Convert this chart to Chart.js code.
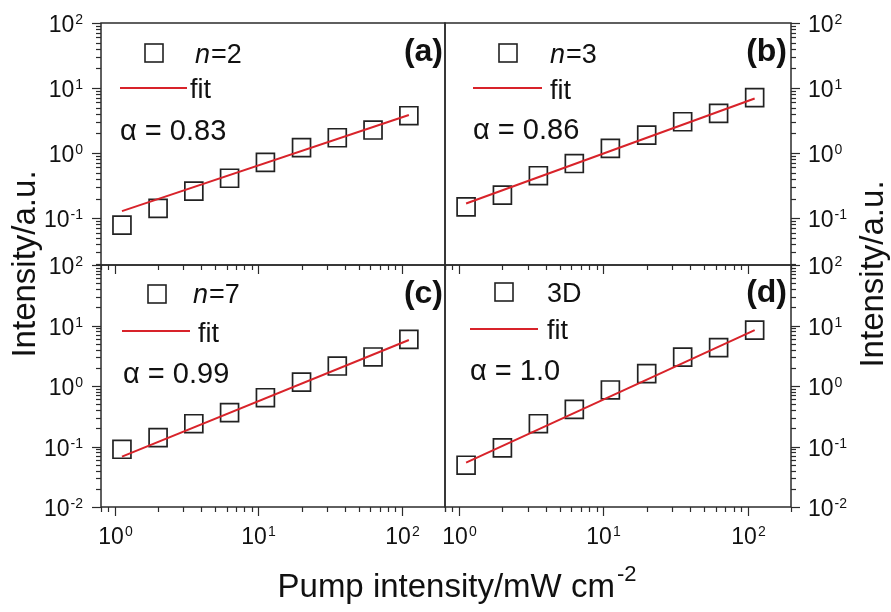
<!DOCTYPE html>
<html>
<head>
<meta charset="utf-8">
<script src="https://cdn.jsdelivr.net/npm/chart.js@4.4.1/dist/chart.umd.min.js"></script>
<style>
  body { margin: 0; background: #fff; }
  #wrap { position: relative; width: 891px; height: 612px; }
  #wrap canvas { position: absolute; left: 0; top: 0; }
</style>
</head>
<body>
<div id="wrap">
  <canvas id="panelA" width="891" height="612"></canvas>
  <canvas id="panelB" width="891" height="612"></canvas>
  <canvas id="panelC" width="891" height="612"></canvas>
  <canvas id="panelD" width="891" height="612"></canvas>
</div>
<script>
// Data
const pumpX = [1.12, 2.0, 3.55, 6.3, 11.2, 20, 35.5, 63, 112];
const intensityN2 = [0.078, 0.141, 0.26, 0.41, 0.72, 1.21, 1.72, 2.26, 3.75];
const intensityN3 = [0.149, 0.226, 0.448, 0.69, 1.18, 1.89, 3.03, 4.08, 7.1];
const intensityN7 = [0.09, 0.14, 0.238, 0.362, 0.64, 1.16, 2.14, 3.02, 5.9];
const intensity3D = [0.049, 0.095, 0.238, 0.41, 0.86, 1.6, 3.0, 4.3, 8.4];

// fit lines (end points)
const fitX = [1.12, 112];
const fitN2 = [0.128, 3.84];
const fitN3 = [0.168, 6.9];
const fitN7 = [0.068, 5.75];
const fit3D = [0.054, 8.4];

// axis ranges
const X_MIN = 0.8, X_MAX = 200;
const Y_MAX = 100, Y_TOP_MIN = 0.019, Y_BOT_MIN = 0.01;

const FONT = "'Liberation Sans', Arial, sans-serif";
const AXIS_COLOR = '#2b2b2b';
const TEXT_COLOR = '#111';
const FIT_RED = '#d8232a';

function logTicks(min, max) {
  const out = [];
  for (let e = -3; e <= 3; e++) {
    for (let k = 1; k <= 9; k++) {
      const v = k * Math.pow(10, e);
      if (v >= min * 0.999 && v <= max * 1.001) out.push({ v, major: k === 1, exp: e });
    }
  }
  return out;
}

// "10" with a raised exponent, y = baseline of "10"
function powerLabel(ctx, x, y, exp, align) {
  ctx.font = '23px ' + FONT;
  const bw = ctx.measureText('10').width;
  ctx.font = '14px ' + FONT;
  const ew = ctx.measureText(exp).width;
  let left = x;
  if (align === 'right') left = x - bw - ew - 1;
  if (align === 'center') left = x - (bw + ew + 1) / 2;
  ctx.textAlign = 'left';
  ctx.textBaseline = 'alphabetic';
  ctx.font = '23px ' + FONT;
  ctx.fillText('10', left, y);
  ctx.font = '14px ' + FONT;
  ctx.fillText(exp, left + bw + 1, y - 8);
}

function tickLine(ctx, x1, y1, x2, y2) {
  ctx.beginPath();
  ctx.moveTo(x1, y1);
  ctx.lineTo(x2, y2);
  ctx.stroke();
}

function panelDecor(cfg) {
  return {
    id: 'decor' + cfg.id,
    afterDraw(chart) {
      const ctx = chart.ctx;
      const a = chart.chartArea;
      const xs = chart.scales.x, ys = chart.scales.y;
      ctx.save();

      // frame
      ctx.strokeStyle = AXIS_COLOR;
      ctx.lineWidth = 1.5;
      ctx.strokeRect(a.left, a.top, a.right - a.left, a.bottom - a.top);

      // y axis ticks + labels
      ctx.lineWidth = 1.2;
      ctx.fillStyle = TEXT_COLOR;
      const left = cfg.side === 'left';
      const ax = left ? a.left : a.right;
      const dir = left ? -1 : 1;
      logTicks(ys.min, ys.max).forEach(t => {
        const py = Math.round(ys.getPixelForValue(t.v)) + 0.5;
        tickLine(ctx, ax, py, ax + dir * (t.major ? 9 : 5), py);
        if (t.major) {
          if (left) powerLabel(ctx, 83, py + 8, String(t.exp), 'right');
          else powerLabel(ctx, 808, py + 8, String(t.exp), 'left');
        }
      });

      // x ticks on bottom panels
      if (cfg.bottom) {
        logTicks(xs.min, xs.max).forEach(t => {
          const px = Math.round(xs.getPixelForValue(t.v)) + 0.5;
          const len = t.major ? 9 : 5;
          tickLine(ctx, px, a.bottom, px, a.bottom + len);
          tickLine(ctx, px, a.top, px, a.top + len);
          if (t.major) powerLabel(ctx, px, 544, String(t.exp), 'center');
        });
      }

      // legend
      const lg = cfg.legend;
      ctx.strokeStyle = '#222';
      ctx.lineWidth = 1.6;
      ctx.strokeRect(lg.sq[0] - 9, lg.sq[1] - 9, 18, 18);
      ctx.textAlign = 'left';
      ctx.textBaseline = 'alphabetic';
      let nx = lg.nameX;
      if (cfg.nameItalic) {
        ctx.font = 'italic 27px ' + FONT;
        ctx.fillText(cfg.nameItalic, nx, lg.nameY);
        nx += ctx.measureText(cfg.nameItalic).width + 1;
      }
      ctx.font = '27px ' + FONT;
      ctx.fillText(cfg.nameRest, nx, lg.nameY);

      ctx.strokeStyle = FIT_RED;
      ctx.lineWidth = 2;
      tickLine(ctx, lg.line[0], lg.line[2], lg.line[1], lg.line[2]);
      ctx.fillText('fit', lg.fitX, lg.fitY);

      ctx.font = '29px ' + FONT;
      ctx.fillText(cfg.alpha, lg.alphaX, lg.alphaY);

      // panel letter
      ctx.font = 'bold 32px ' + FONT;
      ctx.textAlign = 'right';
      ctx.fillText('(' + cfg.id + ')', lg.letter[0], lg.letter[1]);

      // shared axis titles, drawn once
      if (cfg.titles) {
        ctx.font = '33px ' + FONT;
        ctx.textAlign = 'center';
        ctx.save();
        ctx.translate(35, 264);
        ctx.rotate(-Math.PI / 2);
        ctx.fillText('Intensity/a.u.', 0, 0);
        ctx.restore();
        ctx.save();
        ctx.translate(883, 274);
        ctx.rotate(-Math.PI / 2);
        ctx.fillText('Intensity/a.u.', 0, 0);
        ctx.restore();

        const main = 'Pump intensity/mW cm';
        ctx.font = '33px ' + FONT;
        const mw = ctx.measureText(main).width;
        ctx.font = '22px ' + FONT;
        const ew = ctx.measureText('-2').width;
        const start = 457 - (mw + ew + 2) / 2;
        ctx.textAlign = 'left';
        ctx.font = '33px ' + FONT;
        ctx.fillText(main, start, 597);
        ctx.font = '22px ' + FONT;
        ctx.fillText('-2', start + mw + 2, 581);
      }
      ctx.restore();
    }
  };
}

function makePanel(canvasId, cfg) {
  const r = cfg.rect;
  return new Chart(document.getElementById(canvasId), {
    type: 'scatter',
    data: {
      datasets: [
        {
          data: fitX.map((x, i) => ({ x, y: cfg.fit[i] })),
          showLine: true,
          borderColor: FIT_RED,
          borderWidth: 2,
          pointRadius: 0
        },
        {
          data: pumpX.map((x, i) => ({ x, y: cfg.values[i] })),
          showLine: false,
          pointStyle: 'rect',
          pointRadius: 12.7,
          pointBorderWidth: 1.7,
          pointBorderColor: '#222',
          pointBackgroundColor: 'rgba(0,0,0,0)'
        }
      ]
    },
    options: {
      responsive: false,
      animation: false,
      devicePixelRatio: 1,
      events: [],
      layout: { padding: { left: r[0], top: r[1], right: 891 - r[2], bottom: 612 - r[3] } },
      scales: {
        x: { type: 'logarithmic', min: X_MIN, max: X_MAX, display: false },
        y: { type: 'logarithmic', min: cfg.yMin, max: Y_MAX, display: false }
      },
      plugins: { legend: { display: false }, tooltip: { enabled: false } }
    },
    plugins: [panelDecor(cfg)]
  });
}

makePanel('panelA', {
  id: 'a', rect: [101, 23, 445, 265], yMin: Y_TOP_MIN, side: 'left', bottom: false,
  values: intensityN2, fit: fitN2, nameItalic: 'n', nameRest: '=2', alpha: '\u03b1 = 0.83',
  legend: { sq: [154, 53], nameX: 195, nameY: 63, line: [120, 187, 88], fitX: 190, fitY: 98,
            alphaX: 120, alphaY: 140, letter: [443, 61] }
});

makePanel('panelB', {
  id: 'b', rect: [445, 23, 791, 265], yMin: Y_TOP_MIN, side: 'right', bottom: false,
  values: intensityN3, fit: fitN3, nameItalic: 'n', nameRest: '=3', alpha: '\u03b1 = 0.86',
  legend: { sq: [508, 53], nameX: 550, nameY: 63, line: [473, 542, 88], fitX: 550, fitY: 99,
            alphaX: 473, alphaY: 139, letter: [787, 61] }
});

makePanel('panelC', {
  id: 'c', rect: [101, 265, 445, 507], yMin: Y_BOT_MIN, side: 'left', bottom: true,
  values: intensityN7, fit: fitN7, nameItalic: 'n', nameRest: '=7', alpha: '\u03b1 = 0.99',
  legend: { sq: [157, 294], nameX: 193, nameY: 303, line: [122, 190, 331], fitX: 198, fitY: 342,
            alphaX: 123, alphaY: 383, letter: [443, 303] }
});

makePanel('panelD', {
  id: 'd', rect: [445, 265, 791, 507], yMin: Y_BOT_MIN, side: 'right', bottom: true, titles: true,
  values: intensity3D, fit: fit3D, nameItalic: '', nameRest: '3D', alpha: '\u03b1 = 1.0',
  legend: { sq: [504, 292], nameX: 547, nameY: 302, line: [470, 538, 329], fitX: 547, fitY: 339,
            alphaX: 470, alphaY: 380, letter: [787, 302] }
});
</script>
</body>
</html>
